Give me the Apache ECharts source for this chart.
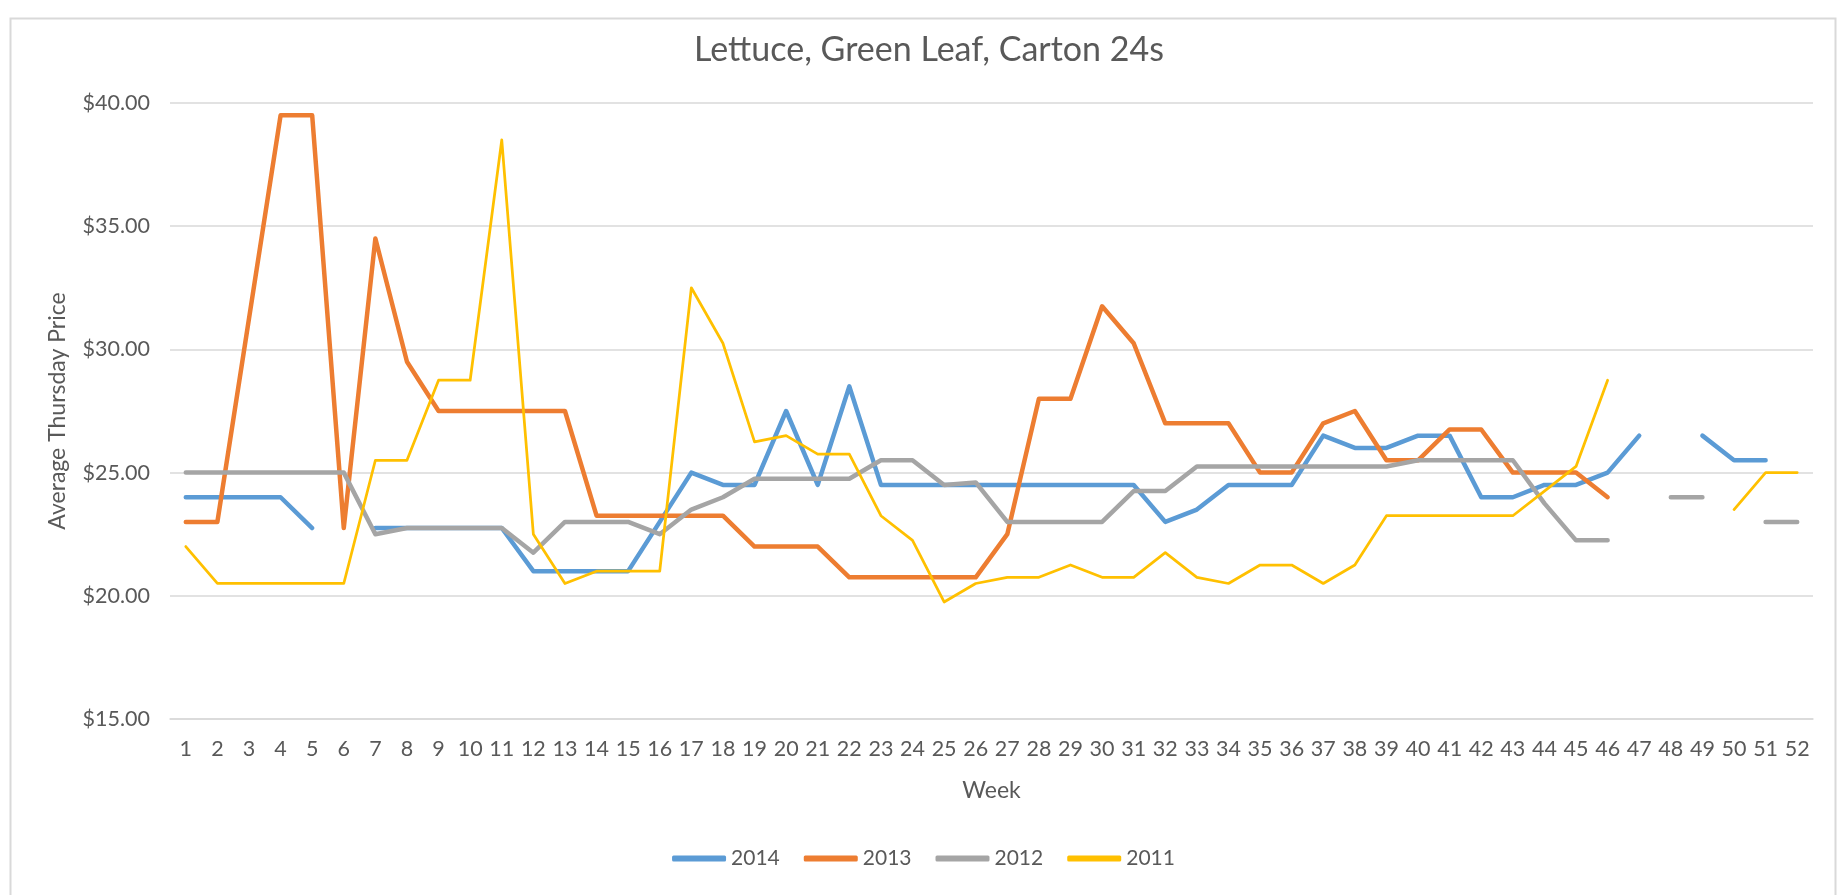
<!DOCTYPE html>
<html>
<head>
<meta charset="utf-8">
<title>Lettuce, Green Leaf, Carton 24s</title>
<script src="https://cdn.jsdelivr.net/npm/echarts@6/dist/echarts.min.js"></script>
<style>
  html, body { margin: 0; padding: 0; background: #fff; }
  #chart { width: 1847px; height: 895px; }
</style>
</head>
<body>
<div id="chart"></div>
<script>
// week numbers on the x axis
const weeks = [];
for (let w = 1; w <= 52; w++) weeks.push(String(w));

// average Thursday price per week, null where there was no quote
const price2014 = [24, 24, 24, 24, 22.75, null, 22.75, 22.75, 22.75, 22.75, 22.75, 21, 21, 21, 21, 23,
  25, 24.5, 24.5, 27.5, 24.5, 28.5, 24.5, 24.5, 24.5, 24.5, 24.5, 24.5, 24.5, 24.5, 24.5, 23, 23.5,
  24.5, 24.5, 24.5, 26.5, 26, 26, 26.5, 26.5, 24, 24, 24.5, 24.5, 25, 26.5, null, 26.5, 25.5, 25.5, null];
const price2013 = [23, 23, 31.25, 39.5, 39.5, 22.75, 34.5, 29.5, 27.5, 27.5, 27.5, 27.5, 27.5, 23.25,
  23.25, 23.25, 23.25, 23.25, 22, 22, 22, 20.75, 20.75, 20.75, 20.75, 20.75, 22.5, 28, 28, 31.75, 30.25,
  27, 27, 27, 25, 25, 27, 27.5, 25.5, 25.5, 26.75, 26.75, 25, 25, 25, 24, null, null, null, null, null, null];
const price2012 = [25, 25, 25, 25, 25, 25, 22.5, 22.75, 22.75, 22.75, 22.75, 21.75, 23, 23, 23, 22.5,
  23.5, 24, 24.75, 24.75, 24.75, 24.75, 25.5, 25.5, 24.5, 24.6, 23, 23, 23, 23, 24.25, 24.25, 25.25,
  25.25, 25.25, 25.25, 25.25, 25.25, 25.25, 25.5, 25.5, 25.5, 25.5, 23.75, 22.25, 22.25, null, 24, 24,
  null, 23, 23];
const price2011 = [22, 20.5, 20.5, 20.5, 20.5, 20.5, 25.5, 25.5, 28.75, 28.75, 38.5, 22.5, 20.5, 21, 21,
  21, 32.5, 30.25, 26.25, 26.5, 25.75, 25.75, 23.25, 22.25, 19.75, 20.5, 20.75, 20.75, 21.25, 20.75,
  20.75, 21.75, 20.75, 20.5, 21.25, 21.25, 20.5, 21.25, 23.25, 23.25, 23.25, 23.25, 23.25, 24.25, 25.25,
  28.75, null, null, null, 23.5, 25, 25];

const textColor = "#595959";
const gridColor = "#d9d9d9";
const font = "Lato, 'Open Sans', sans-serif";

function lineSeries(name, data, color, width) {
  return {
    name: name,
    type: "line",
    data: data,
    symbol: "none",
    showSymbol: false,
    connectNulls: false,
    itemStyle: { color: color },
    lineStyle: { color: color, width: width, cap: "round", join: "round" },
  };
}

const chart = echarts.init(document.getElementById("chart"));
chart.setOption({
  animation: false,
  textStyle: { fontFamily: font, color: textColor },
  title: {
    text: "Lettuce, Green Leaf, Carton 24s",
    left: 924,
    top: 28,
    textAlign: "center",
    textStyle: { fontFamily: font, fontSize: 34, fontWeight: "normal", color: textColor },
  },
  graphic: [
    {
      type: "rect",
      left: 8,
      top: 16,
      shape: { width: 1825, height: 900 },
      style: { fill: "none", stroke: gridColor, lineWidth: 2 },
      silent: true,
    },
  ],
  grid: { left: 170, right: 34, top: 103, bottom: 176 },
  legend: {
    bottom: 21,
    left: "center",
    icon: "roundRect",
    itemWidth: 54,
    itemHeight: 6,
    itemGap: 24,
    textStyle: { fontFamily: font, fontSize: 21, color: textColor },
    data: ["2014", "2013", "2012", "2011"],
  },
  xAxis: {
    type: "category",
    data: weeks,
    boundaryGap: true,
    name: "Week",
    nameLocation: "middle",
    nameGap: 60,
    nameTextStyle: { fontFamily: font, fontSize: 23, color: textColor },
    axisTick: { show: false },
    axisLine: { lineStyle: { color: gridColor, width: 1.5 } },
    axisLabel: { interval: 0, margin: 19, fontFamily: font, fontSize: 21.5, color: textColor },
  },
  yAxis: {
    type: "value",
    min: 15,
    max: 40,
    interval: 5,
    name: "Average Thursday Price",
    nameLocation: "middle",
    nameRotate: 90,
    nameGap: 101,
    nameTextStyle: { fontFamily: font, fontSize: 23, color: textColor },
    axisLine: { show: false },
    axisTick: { show: false },
    splitLine: { lineStyle: { color: gridColor, width: 1.5 } },
    axisLabel: {
      margin: 20,
      fontFamily: font,
      fontSize: 21.5,
      color: textColor,
      formatter: (v) => "$" + v.toFixed(2),
    },
  },
  series: [
    lineSeries("2014", price2014, "#5b9bd5", 4.5),
    lineSeries("2013", price2013, "#ed7d31", 4.5),
    lineSeries("2012", price2012, "#a5a5a5", 4.5),
    lineSeries("2011", price2011, "#ffc000", 2.75),
  ],
});
</script>
</body>
</html>
